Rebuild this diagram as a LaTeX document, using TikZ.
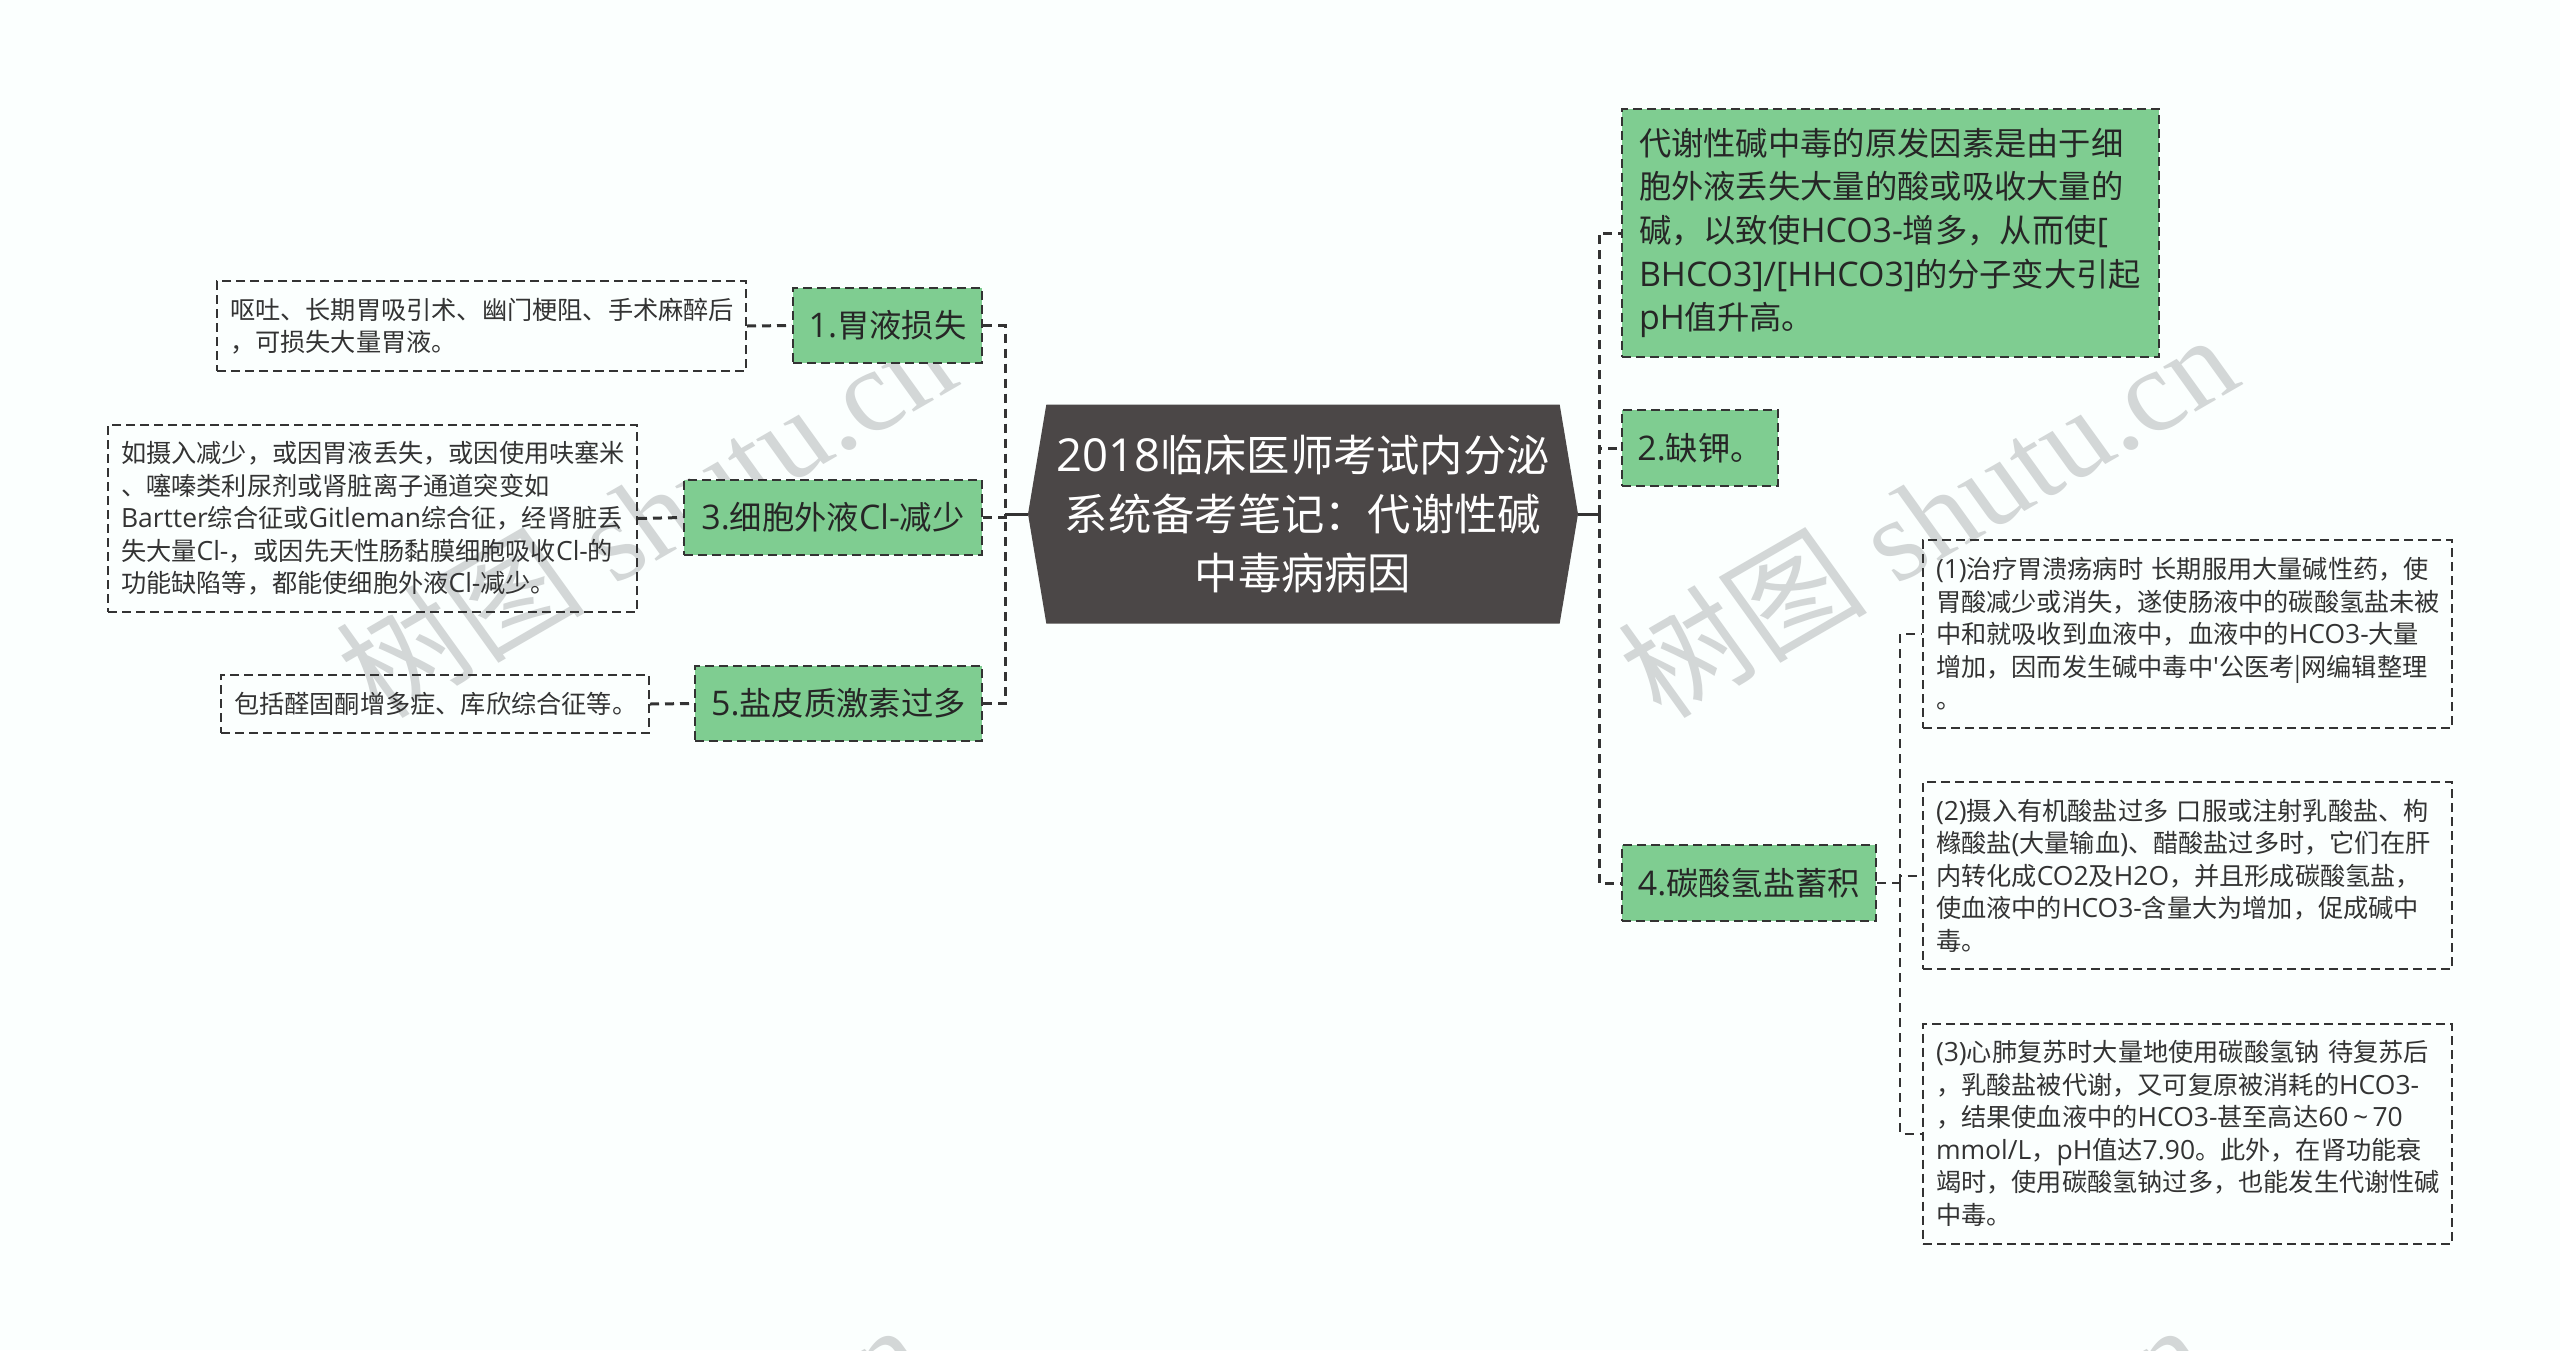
\documentclass[tikz,border=0pt]{standalone}
\usepackage{fontspec}
\setmainfont{Noto Sans CJK SC}
\newfontfamily\markfont{Liberation Serif}
\newfontfamily\latfont[Scale=1.05]{Open Sans}
\usetikzlibrary{shapes.symbols}
\definecolor{bgpage}{HTML}{FBFFFE}
\definecolor{boxgreen}{HTML}{7FCD91}
\definecolor{rootgray}{HTML}{4B4747}
\definecolor{linegray}{HTML}{333333}
\definecolor{markgray}{HTML}{D3D7D7}
\tikzset{
	rootbox/.style={shape=signal,signal to=west and east,signal pointer angle=161,fill=rootgray,text=white,inner sep=0pt,minimum width=550pt,minimum height=219pt,align=center,font=\fontsize{43.3}{59}\selectfont},
	greenbox/.style={draw=linegray,fill=boxgreen,text=black!85,line width=2pt,dash pattern=on 9pt off 5pt,inner sep=0pt,align=center,font=\fontsize{32.3}{43.7}\selectfont},
	detailbox/.style={draw=linegray,text=linegray,line width=2pt,dash pattern=on 9pt off 5pt,inner ysep=0pt,inner xsep=13pt,align=left,font=\fontsize{25.2}{32.5}\selectfont},
	branch/.style={draw=linegray,line width=3pt,dash pattern=on 9pt off 6pt},
	subbranch/.style={draw=linegray,line width=2pt,dash pattern=on 9pt off 6pt},
	stem/.style={draw=linegray,line width=3pt},
	markline/.style={text=markgray,rotate=30,xslant=-0.1,font=\markfont\fontsize{120}{120}\selectfont}
}
\newcommand{\la}[1]{{\latfont #1}}
\newcommand{\markword}{{\fontspec{Noto Sans CJK SC}树图} shutu.cn}
\begin{document}
\begin{tikzpicture}[x=1pt,y=-1pt]
	\fill[bgpage] (0,0) rectangle (2560,1350);
	\useasboundingbox (0,0) rectangle (2560,1350);
	% watermark
	\begin{scope}
		\clip (0,0) rectangle (2560,1350);
		\foreach \dx in {0,1282} {
			\foreach \dy in {0,990} {
				\pgfmathsetmacro{\wx}{645+\dx-0.03*\dy}
				\pgfmathsetmacro{\wy}{515+\dy}
				\node[markline] (mark\dx\dy) at (\wx,\wy) {\markword};
			}
		}
	\end{scope}
	% nodes
	\node[rootbox] (root) at (1303,514) {\la{2018}临床医师考试内分泌\\系统备考笔记：代谢性碱\\中毒病病因};
	\node[greenbox,minimum width=189pt,minimum height=75pt] (gastric) at (887.5,325.5) {\la{1.}胃液损失};
	\node[greenbox,minimum width=298pt,minimum height=75pt] (chloride) at (833,517.5) {\la{3.}细胞外液\la{Cl-}减少};
	\node[greenbox,minimum width=287pt,minimum height=75pt] (cortico) at (838.5,703.5) {\la{5.}盐皮质激素过多};
	\node[detailbox,text width=503pt,minimum height=90pt] (gastricnote) at (481.5,326) {呕吐、长期胃吸引术、幽门梗阻、手术麻醉后\\，可损失大量胃液。};
	\node[detailbox,text width=503pt,minimum height=187pt] (chloridenote) at (372.5,518.5) {如摄入减少，或因胃液丢失，或因使用呋塞米\\、噻嗪类利尿剂或肾脏离子通道突变如\\\la{Bartter}综合征或\la{Gitleman}综合征，经肾脏丢\\失大量\la{Cl-}，或因先天性肠黏膜细胞吸收\la{Cl-}的\\功能缺陷等，都能使细胞外液\la{Cl-}减少。};
	\node[detailbox,text width=402pt,minimum height=58pt] (corticonote) at (435,704) {包括醛固酮增多症、库欣综合征等。};
	\node[greenbox,text width=503pt,inner xsep=17pt,align=left,minimum height=248pt] (cause) at (1890.5,233) {代谢性碱中毒的原发因素是由于细\\胞外液丢失大量的酸或吸收大量的\\碱，以致使\la{HCO3-}增多，从而使\la{[}\\\la{BHCO3]/[HHCO3]}的分子变大引起\\\la{pH}值升高。};
	\node[greenbox,minimum width=156pt,minimum height=76pt] (potassium) at (1700,448) {\la{2.}缺钾。};
	\node[greenbox,minimum width=254pt,minimum height=76pt] (bicarb) at (1749,883) {\la{4.}碳酸氢盐蓄积};
	\node[detailbox,text width=503pt,minimum height=188pt] (ulcer) at (2187.5,634) {\la{(1)}治疗胃溃疡病时 长期服用大量碱性药，使\\胃酸减少或消失，遂使肠液中的碳酸氢盐未被\\中和就吸收到血液中，血液中的\la{HCO3-}大量\\增加，因而发生碱中毒中\la{\textquotesingle}公医考|网编辑整理\\。};
	\node[detailbox,text width=503pt,minimum height=187pt] (organic) at (2187.5,875.5) {\la{(2)}摄入有机酸盐过多 口服或注射乳酸盐、枸\\橼酸盐\la{(}大量输血\la{)}、醋酸盐过多时，它们在肝\\内转化成\la{CO2}及\la{H2O}，并且形成碳酸氢盐，\\使血液中的\la{HCO3-}含量大为增加，促成碱中\\毒。};
	\node[detailbox,text width=503pt,minimum height=220pt] (resus) at (2187.5,1133.5) {\la{(3)}心肺复苏时大量地使用碳酸氢钠 待复苏后\\，乳酸盐被代谢，又可复原被消耗的\la{HCO3-}\\，结果使血液中的\la{HCO3-}甚至高达\la{60\,\textasciitilde\,70}\\\la{mmol/L}，\la{pH}值达\la{7.90}。此外，在肾功能衰\\竭时，使用碳酸氢钠过多，也能发生代谢性碱\\中毒。};
	% joints of the connectors
	\coordinate (leftjoint) at (1005,514);
	\coordinate (rightjoint) at (1599,514);
	\coordinate (bicarbjoint) at (1900,883);
	% connectors
	\draw[stem] (root.west) -- (leftjoint);
	\draw[stem] (root.east) -- (rightjoint);
	\draw[branch] (gastric.east) -| (leftjoint);
	\draw[branch] (chloride.east) -| (leftjoint);
	\draw[branch] (cortico.east) -| (leftjoint);
	\draw[branch] (gastricnote.east) -- (gastric.west);
	\draw[branch] (chloridenote.east) -- (chloride.west);
	\draw[branch] (corticonote.east) -- (cortico.west);
	\draw[branch] (rightjoint) |- (cause.west);
	\draw[branch] (rightjoint) |- (potassium.west);
	\draw[branch] (rightjoint) |- (bicarb.west);
	\draw[subbranch] (bicarb.east) -- (bicarbjoint);
	\draw[subbranch] (bicarbjoint) |- (ulcer.west);
	\draw[subbranch] (bicarbjoint) |- (organic.west);
	\draw[subbranch] (bicarbjoint) |- (resus.west);
\end{tikzpicture}
\end{document}
